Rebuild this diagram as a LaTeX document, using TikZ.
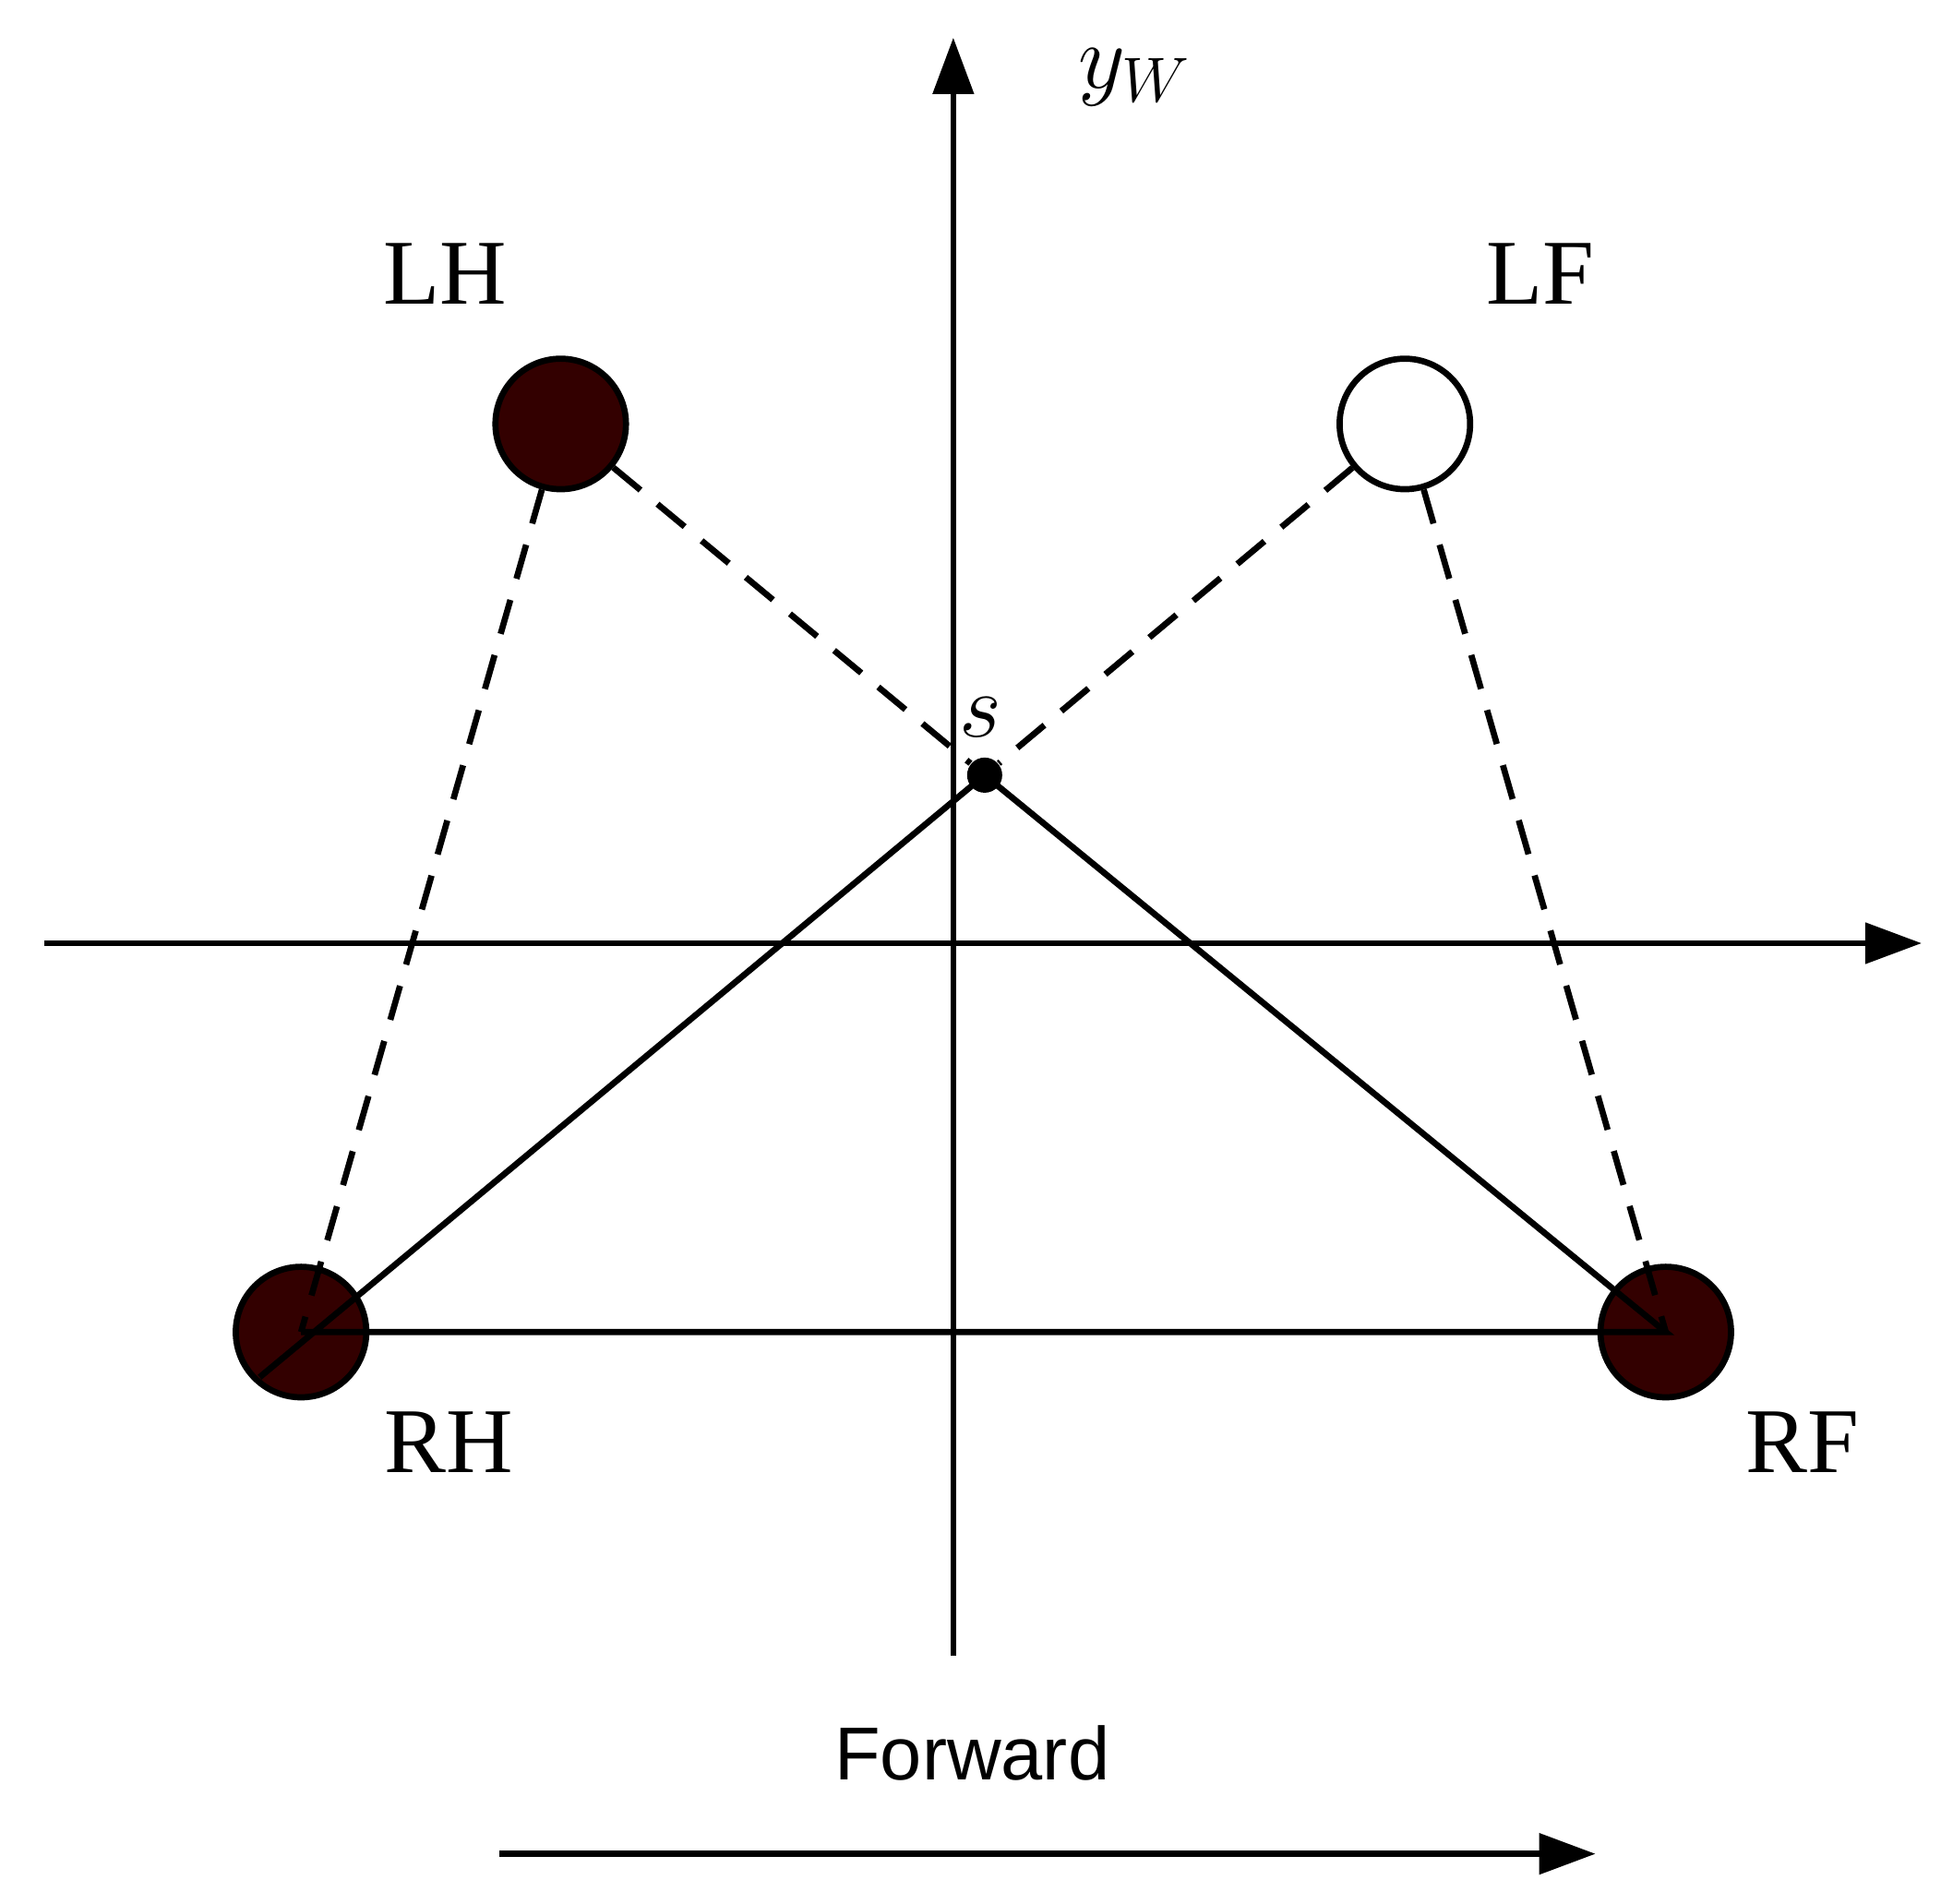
\documentclass[tikz,border=0pt]{standalone}
\usepackage{fontspec}
\setmainfont{Liberation Serif}
\newfontfamily\sans{Liberation Sans}
\usetikzlibrary{arrows.meta}
\definecolor{foot}{RGB}{51,0,0}
\begin{document}
\begin{tikzpicture}[x=0.01cm,y=-0.01cm,
  foot/.style={circle,draw=black,line width=1.4pt,minimum size=1.04cm,inner sep=0},
  lab/.style={font=\fontsize{21}{24}\selectfont},
  axis/.style={line width=1.4pt,-{Triangle[length=0.45cm,width=0.32cm]}},
  edge/.style={line width=1.4pt},
  dashedge/.style={line width=1.4pt,dash pattern=on 8pt off 5pt}]
\useasboundingbox (0,0) rectangle (1557,1518);
\coordinate (vb) at (760,1320); \coordinate (vt) at (760,30);
\coordinate (hl) at (35,752); \coordinate (hr) at (1532,752);
\draw[axis] (vb) -- (vt);
\draw[axis] (hl) -- (hr);
\node[lab] (yw) at (905,62) {$y_W$};
\node[foot,fill=foot] (LH) at (447,338) {};
\node[foot,fill=white] (LF) at (1120,338) {};
\node[foot,fill=foot] (RH) at (240,1062) {};
\node[foot,fill=foot] (RF) at (1328,1062) {};
\node[circle,fill=black,minimum size=0.28cm,inner sep=0] (s) at (785,618) {};
\node[lab] at (355,218) {LH};
\node[lab] at (1228,218) {LF};
\node[lab] at (358,1150) {RH};
\node[lab] at (1437,1150) {RF};
\node[lab] at (782,572) {$s$};
\draw[dashedge] (LH) -- (RH.center);
\draw[dashedge] (LH) -- (s);
\draw[dashedge] (LF) -- (s);
\draw[dashedge] (LF) -- (RF.center);
\coordinate (rhend) at (207,1098);
\draw[edge] (rhend) -- (s.center) -- (RF.center) -- (RH.center);
\node[font=\sans\fontsize{17}{20}\selectfont] (fw) at (775,1398) {Forward};
\coordinate (fa) at (398,1478); \coordinate (fb) at (1272,1478);
\draw[axis] (fa) -- (fb);
\end{tikzpicture}
\end{document}
